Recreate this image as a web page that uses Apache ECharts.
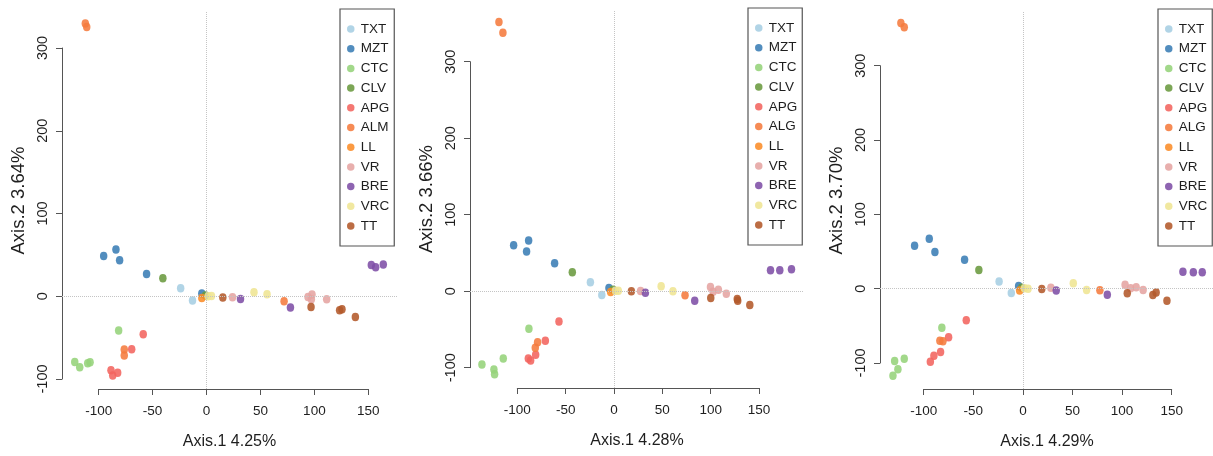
<!DOCTYPE html>
<html>
<head>
<meta charset="utf-8">
<script src="https://cdn.jsdelivr.net/npm/echarts@6/dist/echarts.min.js"></script>
<style>
  html, body { margin: 0; padding: 0; background: #fff; }
  #chart { width: 1213px; height: 456px; }
</style>
</head>
<body>
<div id="chart"></div>
<script>
  // group names (panel 1 uses ALM, panels 2 and 3 use ALG)
  const groupNames1 = ['TXT', 'MZT', 'CTC', 'CLV', 'APG', 'ALM', 'LL', 'VR', 'BRE', 'VRC', 'TT'];
  const groupNames23 = ['TXT', 'MZT', 'CTC', 'CLV', 'APG', 'ALG', 'LL', 'VR', 'BRE', 'VRC', 'TT'];
  const groupColors = ['#a6cee3', '#3a7db5', '#95d37a', '#6a9a3f', '#f3645e', '#f57b3d',
                       '#fb8c28', '#e5a4a2', '#7e4fa6', '#efe593', '#b3592a'];

  const axis1Titles = ['Axis.1 4.25%', 'Axis.1 4.28%', 'Axis.1 4.29%'];
  const axis2Titles = ['Axis.2 3.64%', 'Axis.2 3.66%', 'Axis.2 3.70%'];

  const xTickMin = -100, xTickMax = 150, xTickStep = 50;
  const yTickMin = -100, yTickMax = 300, yTickStep = 100;

  // PCoA coordinates [Axis.1, Axis.2], one list per group, same order as the names
  const pcoa1 = [
    [[-24, 9.7], [-13, -5.2]],
    [[-95.4, 48.7], [-84, 56.4], [-80.6, 43.5], [-55.6, 27], [-4.4, 3.3]],
    [[-122.2, -79.4], [-117.6, -85.8], [-110.2, -81], [-108, -79.8], [-81.5, -41.5]],
    [[-40.5, 21.8], [-1, 0.8]],
    [[-58.7, -45.9], [-69.4, -64], [-88.6, -89.4], [-87, -95.9], [-82.4, -92.3]],
    [[-112.4, 329.5], [-111.1, 325.5], [-76.3, -64.5], [-76.3, -71.7], [71.9, -6]],
    [[-4.4, -2]],
    [[24.1, -1.2], [94.1, -0.8], [97.8, 2], [97.2, -3.6], [111.4, -3.6]],
    [[31.5, -3.2], [77.8, -13.7], [152.8, 37.9], [156.8, 35], [163.9, 38.3]],
    [[1.5, 0], [4.6, 0.4], [44, 4.8], [56.1, 2.4]],
    [[15.1, -1.6], [96.9, -12.9], [123.4, -16.9], [125.6, -15.7], [138, -25]]
  ];
  const pcoa2 = [
    [[-24.4, 11.8], [-12.6, -5]],
    [[-103.8, 60.1], [-88.3, 66.3], [-90.4, 51.9], [-61.4, 36.6], [-5.2, 4.2]],
    [[-136.6, -95.8], [-124.2, -102.4], [-123.5, -108.5], [-114.5, -88], [-88, -49.2]],
    [[-43.1, 24.8], [-1, 2]],
    [[-56.9, -39.6], [-71, -64.8], [-88.6, -88], [-86.2, -90.6], [-81, -83.1]],
    [[-119, 352], [-114.9, 337.8], [-79, -66.7], [-81.4, -74], [73.5, -5.2]],
    [[-3.5, -1]],
    [[27.5, 0.3], [99.8, 5.4], [102.5, -0.6], [108, 1.8], [116.2, -3.4]],
    [[32.5, -2.1], [83.5, -12.6], [161.9, 27.5], [171.5, 27.5], [183.6, 28.8]],
    [[1.5, 0.5], [4.5, 0.5], [48.8, 6.5], [61, 0]],
    [[18, -0.2], [100.1, -9], [127.5, -10.2], [128, -12.6], [140.5, -18]]
  ];
  const pcoa3 = [
    [[-24, 9.7], [-11.7, -5.8]],
    [[-109.2, 57.9], [-94.4, 67.3], [-88.7, 49.4], [-58.8, 39], [-4.3, 3.6]],
    [[-129.3, -97.3], [-126, -108.5], [-131, -117], [-119.6, -94.2], [-81.7, -52.5]],
    [[-44.4, 25.2], [-1.2, 1.3]],
    [[-57.1, -42.5], [-74.9, -65.4], [-83, -85.2], [-89.7, -90.2], [-93.3, -98.2]],
    [[-123, 357.6], [-119.6, 351.8], [-83.7, -70], [-80.6, -70.8], [77.6, -2.2]],
    [[-3.3, -2.4]],
    [[28.2, 1.4], [103, 5.4], [108.6, 0.7], [114.2, 1.8], [121.2, -1.7]],
    [[33.6, -2.4], [85.1, -8.2], [161.3, 22.9], [171.8, 22], [180.8, 22]],
    [[1.5, 0.5], [5.2, -0.2], [50.8, 7.4], [64.2, -1.7]],
    [[19, -0.5], [105.2, -6.2], [131, -8.5], [134.3, -5.2], [145.2, -16.2]]
  ];

  const panelData = [pcoa1, pcoa2, pcoa3];
  const panelNames = [groupNames1, groupNames23, groupNames23];

  // pixel layout of each panel: plot region and where the first/last ticks sit
  const panels = [
    { left: 62, right: 397, top: 12, bottom: 389, xLo: 98.7, xHi: 368.3, yLo: 379, yHi: 48, legendLeft: 340, legendTop: 9 },
    { left: 470, right: 804, top: 10, bottom: 388, xLo: 517.3, xHi: 759, yLo: 367.7, yHi: 61.7, legendLeft: 748, legendTop: 8 },
    { left: 880, right: 1214, top: 12, bottom: 389, xLo: 923.7, xHi: 1171.7, yLo: 363, yHi: 65.7, legendLeft: 1158, legendTop: 9 }
  ];

  const font = 'Liberation Sans, Arial, Helvetica, sans-serif';
  const ink = '#1e1e1e';
  const axisInk = '#555';
  const ellipse = 'path://M50 0A50 50 0 1 1 50 100A50 50 0 1 1 50 0Z';

  const grid = [], xAxis = [], yAxis = [], series = [], legend = [];

  panels.forEach((p, i) => {
    const xScale = (xTickMax - xTickMin) / (p.xHi - p.xLo);
    const yScale = (yTickMax - yTickMin) / (p.yLo - p.yHi);
    const xmin = xTickMin - (p.xLo - p.left) * xScale;
    const xmax = xTickMax + (p.right - p.xHi) * xScale;
    const ymin = yTickMin - (p.bottom - p.yLo) * yScale;
    const ymax = yTickMax + (p.yHi - p.top) * yScale;
    const base = i * 3;

    // data grid (whole plot region)
    grid.push({ left: p.left, top: p.top, width: p.right - p.left, height: p.bottom - p.top,
                containLabel: false, outerBoundsMode: 'none' });
    // x axis grid, spanning first to last tick
    grid.push({ left: p.xLo, top: p.top, width: p.xHi - p.xLo, height: p.bottom - p.top,
                containLabel: false, outerBoundsMode: 'none' });
    // y axis grid, spanning first to last tick
    grid.push({ left: p.left, top: p.yHi, width: p.right - p.left, height: p.yLo - p.yHi,
                containLabel: false, outerBoundsMode: 'none' });

    xAxis.push({
      gridIndex: base, type: 'value', min: xmin, max: xmax,
      axisLine: { show: false }, axisTick: { show: false }, axisLabel: { show: false }, splitLine: { show: false },
      name: axis1Titles[i], nameLocation: 'middle', nameGap: 45,
      nameTextStyle: { fontSize: 16, color: ink, fontFamily: font }
    });
    yAxis.push({
      gridIndex: base, type: 'value', min: ymin, max: ymax,
      axisLine: { show: false }, axisTick: { show: false }, axisLabel: { show: false }, splitLine: { show: false },
      name: axis2Titles[i], nameLocation: 'middle', nameGap: 34,
      nameTextStyle: { fontSize: 18.5, color: ink, fontFamily: font }
    });

    xAxis.push({
      gridIndex: base + 1, type: 'value', min: xTickMin, max: xTickMax, interval: xTickStep,
      position: 'bottom',
      axisLine: { show: true, onZero: false, lineStyle: { color: axisInk, width: 1 } },
      axisTick: { show: true, length: 6, lineStyle: { color: axisInk, width: 1 } },
      axisLabel: { show: true, fontSize: 13.5, color: ink, fontFamily: font, margin: 15 },
      splitLine: { show: false }
    });
    yAxis.push({ gridIndex: base + 1, type: 'value', min: 0, max: 1, show: false });

    xAxis.push({ gridIndex: base + 2, type: 'value', min: 0, max: 1, show: false });
    yAxis.push({
      gridIndex: base + 2, type: 'value', min: yTickMin, max: yTickMax, interval: yTickStep,
      position: 'left',
      axisLine: { show: true, onZero: false, lineStyle: { color: axisInk, width: 1 } },
      axisTick: { show: true, length: 6, lineStyle: { color: axisInk, width: 1 } },
      axisLabel: { show: true, rotate: 90, fontSize: 14.5, color: ink, fontFamily: font, margin: 12 },
      splitLine: { show: false }
    });

    // dotted reference lines at 0
    series.push({
      type: 'scatter', xAxisIndex: base, yAxisIndex: base, data: [], silent: true, z: 1,
      markLine: {
        silent: true, symbol: ['none', 'none'], label: { show: false },
        lineStyle: { color: '#c4c4c4', type: 'dotted', width: 1 },
        emphasis: { disabled: true },
        data: [{ xAxis: 0 }, { yAxis: 0 }]
      }
    });

    panelNames[i].forEach((name, g) => {
      series.push({
        type: 'scatter', name: name, xAxisIndex: base, yAxisIndex: base, z: 3,
        data: panelData[i][g],
        symbol: ellipse, symbolSize: [7.5, 8.5],
        itemStyle: { color: groupColors[g], opacity: 0.88 }
      });
    });

    legend.push({
      orient: 'vertical', left: p.legendLeft, top: p.legendTop,
      data: panelNames[i].map(n => ({ name: n, icon: 'circle' })),
      itemWidth: 10, itemHeight: 7.5, itemGap: 5.7,
      padding: [13, 5, 13, 7],
      borderColor: axisInk, borderWidth: 1.2, backgroundColor: '#fff',
      selectedMode: false,
      textStyle: { fontSize: 13.5, color: ink, fontFamily: font, lineHeight: 14 }
    });
  });

  const chart = echarts.init(document.getElementById('chart'));
  chart.setOption({
    animation: false,
    backgroundColor: '#fff',
    grid: grid,
    xAxis: xAxis,
    yAxis: yAxis,
    legend: legend,
    series: series
  });
</script>
</body>
</html>
